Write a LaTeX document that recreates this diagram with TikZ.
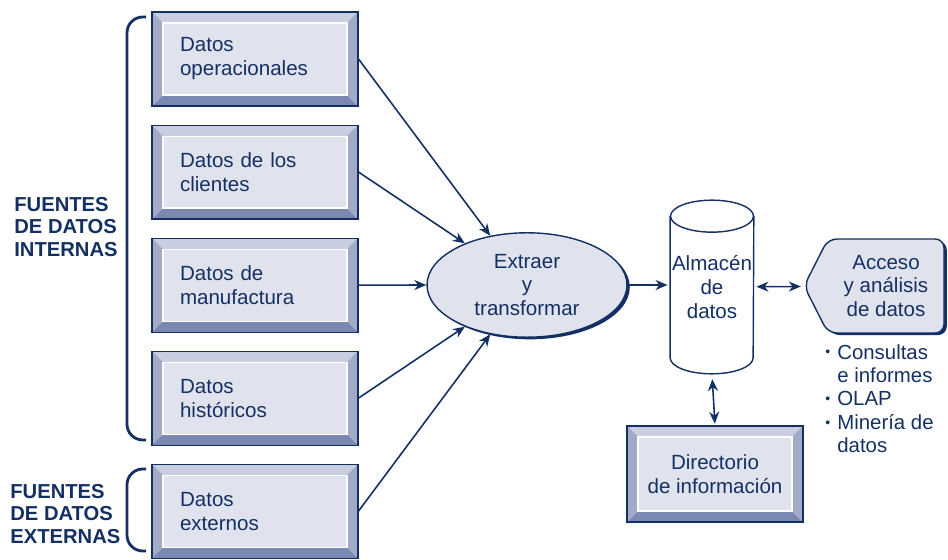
\documentclass[tikz,border=0pt]{standalone}
\usepackage{fontspec}
\setmainfont{Liberation Sans}
\usepackage{tikz}
\usetikzlibrary{arrows.meta,positioning,shapes.geometric,shapes.symbols,shadows}
\definecolor{azul}{RGB}{20,48,98}
\definecolor{cara}{RGB}{224,227,238}
\definecolor{bsup}{RGB}{201,205,224}
\definecolor{blat}{RGB}{163,170,200}
\definecolor{binf}{RGB}{122,136,178}
\newcommand{\txt}{\fontsize{11.7}{13.6}\selectfont}
\newcommand{\vin}{\makebox[0.24cm][l]{\raisebox{0.2ex}{\footnotesize\textbullet}}}
\tikzset{
  caja/.style={draw=azul,line width=0.6pt,fill=cara,minimum height=1.88cm,
    text=azul,font=\txt,
    path picture={
      \fill[bsup] (path picture bounding box.north west) -- (path picture bounding box.north east)
        -- ([xshift=-0.22cm,yshift=-0.22cm]path picture bounding box.north east)
        -- ([xshift=0.22cm,yshift=-0.22cm]path picture bounding box.north west) -- cycle;
      \fill[binf] (path picture bounding box.south west) -- (path picture bounding box.south east)
        -- ([xshift=-0.22cm,yshift=0.22cm]path picture bounding box.south east)
        -- ([xshift=0.22cm,yshift=0.22cm]path picture bounding box.south west) -- cycle;
      \fill[blat] (path picture bounding box.north west) -- (path picture bounding box.south west)
        -- ([xshift=0.22cm,yshift=0.22cm]path picture bounding box.south west)
        -- ([xshift=0.22cm,yshift=-0.22cm]path picture bounding box.north west) -- cycle;
      \fill[blat] (path picture bounding box.north east) -- (path picture bounding box.south east)
        -- ([xshift=-0.22cm,yshift=0.22cm]path picture bounding box.south east)
        -- ([xshift=-0.22cm,yshift=-0.22cm]path picture bounding box.north east) -- cycle;
      \draw[white,line width=0.6pt] ([xshift=0.22cm,yshift=-0.22cm]path picture bounding box.north west)
        rectangle ([xshift=-0.22cm,yshift=0.22cm]path picture bounding box.south east);
    }},
  fuente/.style={caja,minimum width=4.12cm,text width=3cm,inner xsep=0.56cm,align=left},
  directorio/.style={caja,minimum width=3.52cm,minimum height=1.92cm,align=center},
  elipse/.style={ellipse,draw=azul,line width=0.8pt,fill=cara,minimum width=4cm,
    minimum height=1.96cm,align=center,text=azul,font=\txt,
    drop shadow={shadow xshift=1.6pt,shadow yshift=-1.2pt,fill=azul,opacity=1}},
  almacen/.style={minimum width=1.66cm,minimum height=3.46cm,inner sep=0pt,align=center,
    text=azul,font=\txt},
  cil/.style={draw=azul,line width=0.8pt},
  acceso/.style={signal,signal to=west,signal pointer angle=126,draw=azul,line width=0.8pt,
    fill=cara,rounded corners=5pt,minimum width=2.8cm,minimum height=1.88cm,align=center,
    text=azul,font=\txt,
    drop shadow={shadow xshift=1.6pt,shadow yshift=-1.2pt,fill=azul,opacity=1}},
  rotulo/.style={align=left,text=azul,font=\fontsize{11.5}{13}\selectfont\bfseries,inner sep=0pt},
  llave/.style={draw=azul,line width=1.6pt,rounded corners=9pt},
  fl/.style={-{Stealth[length=2.4mm,width=2mm]},draw=azul,line width=0.9pt},
  fl2/.style={{Stealth[length=2.4mm,width=2mm]}-{Stealth[length=2.4mm,width=2mm]},draw=azul,line width=0.9pt},
}
\begin{document}
\begin{tikzpicture}[x=0.02cm,y=-0.02cm,node distance=0.36cm]
  \useasboundingbox (0,0) rectangle (948,560);
  % fuentes
  \node[fuente] (b1) at (255,59) {Datos\\operacionales};
  \node[fuente,below=of b1] (b2) {Datos de los\\clientes};
  \node[fuente,below=of b2] (b3) {Datos de\\manufactura};
  \node[fuente,below=of b3] (b4) {Datos\\históricos};
  \node[fuente,below=of b4] (b5) {Datos\\externos};
  \node[rotulo,anchor=west] (int) at (14,227) {FUENTES\\DE DATOS\\INTERNAS};
  \node[rotulo,anchor=west] (ext) at (10,514) {FUENTES\\DE DATOS\\EXTERNAS};
  \draw[llave] (146,17) -- (127,17) -- (127,440) -- (146,440);
  \draw[llave] (146,469) -- (127,469) -- (127,551) -- (146,551);
  % proceso
  \node[elipse] (etl) at (527,285) {Extraer\\y\\transformar};
  \node[almacen] (alm) at (712,287) {Almacén\\de\\datos};
  \draw[cil] ([yshift=-0.32cm]alm.north west) -- ([yshift=0.32cm]alm.south west)
    arc[start angle=180,end angle=360,x radius=0.83cm,y radius=0.32cm]
    -- ([yshift=-0.32cm]alm.north east);
  \draw[cil] ([yshift=-0.32cm]alm.north) ellipse[x radius=0.83cm,y radius=0.32cm];
  \node[acceso] (acc) at (886,286) {Acceso\\y análisis\\de datos};
  \node[directorio] (dir) at (715,474) {Directorio\\de información};
  \node[anchor=north west,align=left,inner sep=0pt,text=azul,font=\fontsize{11.6}{13.3}\selectfont]
    (usos) at (825,344) {\vin Consultas\\\hphantom{\vin}e informes\\\vin OLAP\\\vin Minería de\\\hphantom{\vin}datos};
  \draw[fl] (b1.east) -- (etl); \draw[fl] (b2.east) -- (etl); \draw[fl] (b3.east) -- (etl);
  \draw[fl] (b4.east) -- (etl); \draw[fl] (b5.east) -- (etl);
  \draw[fl,shorten >=1.5pt] (etl.east) -- (etl.east -| alm.west);
  \draw[fl2,shorten <=1.5pt,shorten >=1.5pt] (alm) -- (acc);
  \draw[fl2,shorten <=3pt,shorten >=1pt] (alm.south) -- (dir.north);
\end{tikzpicture}
\end{document}
